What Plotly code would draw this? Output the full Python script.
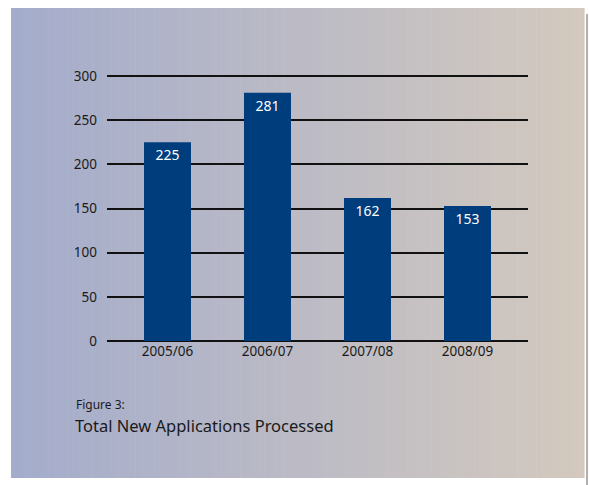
import plotly.graph_objects as go

# Applications processed per financial year
years = ["2005/06", "2006/07", "2007/08", "2008/09"]
applications = [225, 281, 162, 153]
y_ticks = [0, 50, 100, 150, 200, 250, 300]

W, H = 589, 485
ML, MR, MT, MB = 107, 61, 75, 144
PW, PH = W - ML - MR, H - MT - MB

BAR_COLOR = "#003d7d"
FONT = "Noto Sans"


def px_to_paper_x(px):
    return (px - ML) / PW


def px_to_paper_y(py):
    return 1 - (py - MT) / PH


def lerp(c1, c2, t):
    return tuple(round(a + (b - a) * t) for a, b in zip(c1, c2))


fig = go.Figure(
    go.Bar(
        x=years,
        y=applications,
        width=0.47,
        marker=dict(color=BAR_COLOR, line=dict(width=0)),
        text=[str(v) for v in applications],
        textposition="inside",
        insidetextanchor="end",
        textangle=0,
        textfont=dict(family=FONT, size=14, color="white"),
    )
)

# Horizontal gradient panel behind the chart
left_c, right_c = (164, 172, 204), (211, 201, 190)
x0, x1, y0, y1 = 11, 584, 8, 478
n = 120
shapes = []
step = (x1 - x0) / n
for i in range(n):
    t = i / (n - 1)
    r, g, b = lerp(left_c, right_c, t)
    shapes.append(dict(
        type="rect", xref="paper", yref="paper", layer="below",
        x0=px_to_paper_x(x0 + i * step), x1=px_to_paper_x(x0 + (i + 1) * step + 0.6),
        y0=px_to_paper_y(y1), y1=px_to_paper_y(y0),
        fillcolor=f"rgb({r},{g},{b})", line=dict(width=0),
    ))
# thin shadow edge on the right
shapes.append(dict(
    type="line", xref="paper", yref="paper", layer="below",
    x0=px_to_paper_x(587), x1=px_to_paper_x(587),
    y0=px_to_paper_y(485), y1=px_to_paper_y(14),
    line=dict(color="#b0b0b0", width=2),
))

fig.update_layout(
    width=W, height=H,
    margin=dict(l=ML, r=MR, t=MT, b=MB, pad=0),
    paper_bgcolor="white",
    plot_bgcolor="rgba(0,0,0,0)",
    showlegend=False,
    shapes=shapes,
    font=dict(family=FONT, size=13.5, color="#1a1a1a"),
    xaxis=dict(
        range=[-0.605, 3.605], showgrid=False, zeroline=False,
        showline=False, ticks="", tickfont=dict(size=13.5),
    ),
    yaxis=dict(
        range=[0, 301.2], tickvals=y_ticks, showgrid=True,
        gridcolor="#111111", gridwidth=1.5, zeroline=True,
        zerolinecolor="#111111", zerolinewidth=1.5,
        showline=False, ticks="", ticklabelstandoff=9,
        tickfont=dict(size=13.5),
    ),
    annotations=[
        dict(text="Figure 3:", xref="paper", yref="paper",
             x=px_to_paper_x(74), y=px_to_paper_y(404), xanchor="left", yanchor="middle",
             showarrow=False, font=dict(family=FONT, size=12, color="#1a1a1a")),
        dict(text="Total New Applications Processed", xref="paper", yref="paper",
             x=px_to_paper_x(73), y=px_to_paper_y(425), xanchor="left", yanchor="middle",
             showarrow=False, font=dict(family=FONT, size=16.5, color="#1a1a1a")),
    ],
)

fig.write_html("out.html")
